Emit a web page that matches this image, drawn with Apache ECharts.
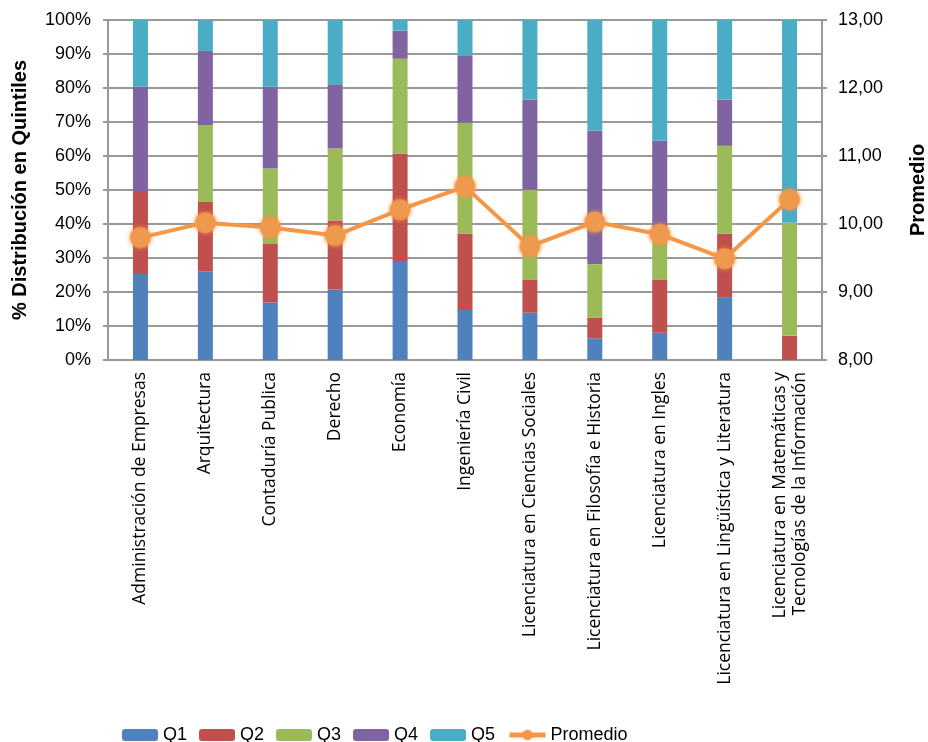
<!DOCTYPE html>
<html>
<head>
<meta charset="utf-8">
<script src="https://cdn.jsdelivr.net/npm/echarts@6/dist/echarts.min.js"></script>
<style>
  html, body { margin: 0; padding: 0; background: #fff; }
  #chart { width: 928px; height: 742px; }
</style>
</head>
<body>
<div id="chart"></div>
<script>
// carreras
var carreras = [
  'Administración de Empresas',
  'Arquitectura',
  'Contaduría Publica',
  'Derecho',
  'Economía',
  'Ingeniería Civil',
  'Licenciatura en Ciencias Sociales',
  'Licenciatura en Filosofía e Historia',
  'Licenciatura en Ingles',
  'Licenciatura en Lingüística y Literatura',
  'Licenciatura en Matemáticas y\nTecnologías de la Información'
];
// % por quintil
var q1 = [25.3, 26.1, 16.9, 20.7, 29.1, 14.7, 13.9, 6.4, 8.0, 18.5, 0];
var q2 = [24.1, 20.4, 17.4, 20.3, 31.6, 22.5, 9.8, 6.0, 15.7, 18.7, 7.1];
var q3 = [0, 22.6, 22.0, 21.2, 27.9, 32.6, 26.4, 15.8, 11.7, 25.8, 33.3];
var q4 = [31.0, 21.8, 24.1, 18.9, 8.3, 19.6, 26.5, 39.3, 29.1, 13.6, 0];
var q5 = [19.6, 9.1, 19.6, 18.9, 3.1, 10.6, 23.4, 32.5, 35.5, 23.4, 59.6];
// promedio (eje derecho)
var promedio = [9.80, 10.02, 9.95, 9.83, 10.21, 10.55, 9.67, 10.03, 9.85, 9.49, 10.36];

var font = 'Liberation Sans';
var myChart = echarts.init(document.getElementById('chart'));

function barra(nombre, datos, color) {
  return {
    name: nombre,
    type: 'bar',
    stack: 'q',
    barWidth: 15,
    data: datos,
    itemStyle: { color: color }
  };
}

myChart.setOption({
  animation: false,
  textStyle: { fontFamily: font, color: '#000' },
  grid: { left: 108, right: 106, top: 20, bottom: 382, outerBoundsMode: 'none' },
  legend: {
    bottom: -7,
    left: 117,
    itemWidth: 36,
    itemHeight: 12,
    itemGap: 12,
    textStyle: { fontFamily: font, fontSize: 18, color: '#000' },
    data: ['Q1', 'Q2', 'Q3', 'Q4', 'Q5', {
      name: 'Promedio',
      itemStyle: { color: '#F79646' },
      lineStyle: { color: '#F79646', width: 5 }
    }]
  },
  xAxis: {
    type: 'category',
    data: carreras,
    axisLine: { lineStyle: { color: '#999', width: 2 } },
    axisTick: { show: false },
    axisLabel: {
      rotate: 90,
      interval: 0,
      margin: 12,
      fontSize: 17.5,
      lineHeight: 20,
      color: '#000',
      fontFamily: 'Open Sans'
    }
  },
  yAxis: [
    {
      type: 'value',
      min: 0,
      max: 100,
      interval: 10,
      name: '% Distribución en Quintiles',
      nameLocation: 'middle',
      nameGap: 78,
      nameRotate: 90,
      nameTextStyle: { fontSize: 20, fontWeight: 'bold', color: '#000', fontFamily: font },
      axisLine: { show: true, lineStyle: { color: '#999', width: 2 } },
      axisTick: { show: true, length: 5, lineStyle: { color: '#999', width: 2 } },
      axisLabel: { formatter: '{value}%', fontSize: 18, color: '#000', margin: 17 },
      splitLine: { lineStyle: { color: '#999', width: 2 } }
    },
    {
      type: 'value',
      min: 8,
      max: 13,
      interval: 1,
      position: 'right',
      name: 'Promedio',
      nameLocation: 'middle',
      nameGap: 86,
      nameRotate: 90,
      nameTextStyle: { fontSize: 20, fontWeight: 'bold', color: '#000', fontFamily: font },
      axisLine: { show: true, lineStyle: { color: '#999', width: 2 } },
      axisTick: { show: true, length: 5, lineStyle: { color: '#999', width: 2 } },
      axisLabel: {
        fontSize: 18,
        color: '#000',
        margin: 16,
        formatter: function (v) { return v.toFixed(2).replace('.', ','); }
      },
      splitLine: { show: false }
    }
  ],
  series: [
    barra('Q1', q1, '#4F81BD'),
    barra('Q2', q2, '#C0504D'),
    barra('Q3', q3, '#9BBB59'),
    barra('Q4', q4, '#8064A2'),
    barra('Q5', q5, '#4BACC6'),
    {
      name: 'Promedio',
      type: 'line',
      yAxisIndex: 1,
      data: promedio,
      symbol: 'circle',
      symbolSize: 20,
      lineStyle: { color: '#F79646', width: 4 },
      itemStyle: {
        color: '#EE9A4F',
        borderColor: 'rgba(247,150,70,0.45)',
        borderWidth: 2,
        shadowBlur: 5,
        shadowColor: 'rgba(247,150,70,0.8)'
      },
      z: 5
    }
  ]
});
</script>
</body>
</html>
